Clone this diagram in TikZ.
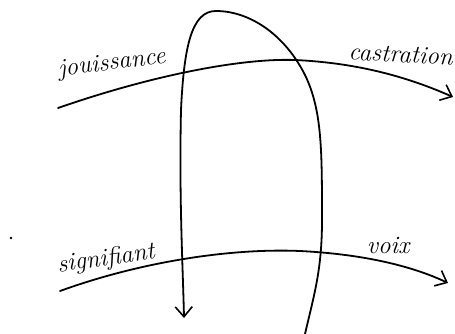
\documentclass[tikz,border=0pt]{standalone}
\usetikzlibrary{arrows.meta, positioning}

\begin{document}
\begin{tikzpicture}[
    x=1pt, y=-1pt,
    every node/.style={font=\itshape},
    ink/.style={line width=1.8pt, line cap=round, line join=round},
    tip/.style={-{Straight Barb[length=10pt, width=17pt, line width=1.6pt]}},
    word/.style={font=\itshape\fontsize{25}{28}\selectfont, inner sep=0pt},
]
\useasboundingbox (0,0) rectangle (455,334);

% ================================================================ upper line
\coordinate (jstart) at (58,108);
\coordinate (jtop)   at (295,60);
\coordinate (jend)   at (453,97);
\draw[ink, tip] (jstart) .. controls (150,76) and (240,58) .. (jtop)
    .. controls (360,63) and (410,78) .. (jend);
\node[word, rotate=7]  (jouis) at (112,64) {jouissance};
\node[word, rotate=-3, anchor=east] (castr) at (453,57) {castration};

% ================================================================ lower line
\coordinate (sstart) at (60,291);
\coordinate (stop)   at (300,251);
\coordinate (send)   at (448,283);
\draw[ink, tip] (sstart) .. controls (140,262) and (230,248) .. (stop)
    .. controls (360,254) and (410,265) .. (send);
\node[word, rotate=8]  (signi) at (106,259) {signifiant};
\node[word]            (voix)  at (388,245) {voix};

% ================================================================ the loop
\coordinate (lstart) at (305,334);
\coordinate (lright) at (322,220);
\coordinate (lturn)  at (305,75);
\coordinate (lapex)  at (216,11);
\coordinate (lleft)  at (181,110);
\coordinate (lend)   at (184,318);
\draw[ink, tip] (lstart) .. controls (314,295) and (322,270) .. (lright)
    .. controls (322,150) and (322,110) .. (lturn)
    .. controls (285,35) and (250,11) .. (lapex)
    .. controls (192,11) and (184,45) .. (lleft)
    .. controls (179,200) and (183,270) .. (lend);

% the stray dot
\fill (11,238) circle (1.4pt);
\end{tikzpicture}
\end{document}
